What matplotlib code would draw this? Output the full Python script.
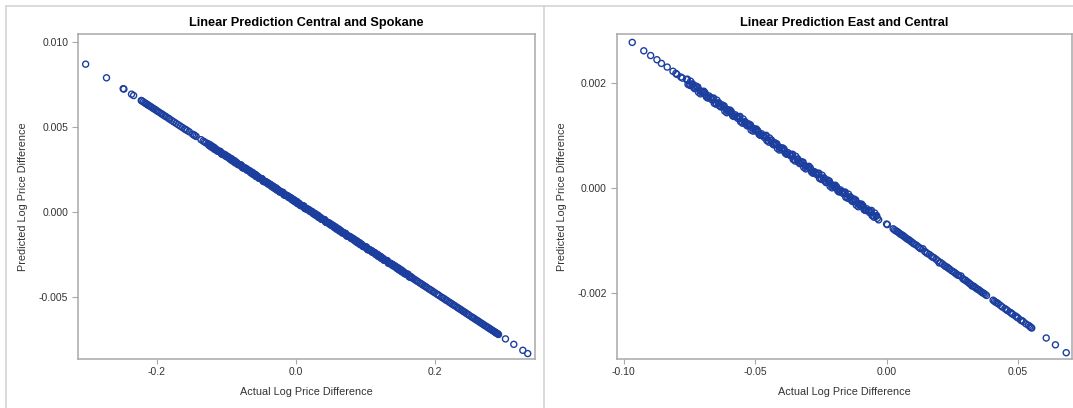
import numpy as np
import matplotlib
matplotlib.use('Agg')
import matplotlib.pyplot as plt
from matplotlib.lines import Line2D

plt.rcParams['font.family'] = ['Liberation Sans', 'DejaVu Sans']

# ---- Central and Spokane (left panel) ----
cs_actual = [
    -0.302, -0.272, -0.248, -0.247, -0.236, -0.233, -0.222, -0.221, -0.217, -0.214,
    -0.211, -0.209, -0.205, -0.199, -0.197, -0.192, -0.188, -0.186, -0.183, -0.178,
    -0.172, -0.169, -0.166, -0.163, -0.160, -0.156, -0.153, -0.146, -0.145, -0.136,
    -0.129,
    -0.126, -0.123, -0.120, -0.117, -0.114, -0.111, -0.108, -0.105, -0.102, -0.099,
    -0.096, -0.093, -0.090, -0.087, -0.084, -0.081, -0.078, -0.075, -0.072, -0.069,
    -0.066, -0.063, -0.060, -0.057, -0.054, -0.051, -0.048, -0.045, -0.042, -0.039,
    -0.036, -0.033, -0.030, -0.027, -0.024, -0.021, -0.018, -0.015, -0.012, -0.009,
    -0.006, -0.003, 0.000, 0.003, 0.006, 0.009, 0.012, 0.015, 0.018, 0.021,
    0.024, 0.027, 0.030, 0.033, 0.036, 0.039, 0.042, 0.045, 0.048, 0.051,
    0.054, 0.057, 0.060, 0.063, 0.066, 0.069, 0.072, 0.075, 0.078, 0.081,
    0.084, 0.087, 0.090, 0.093, 0.096, 0.099, 0.102, 0.105, 0.108, 0.111,
    0.114, 0.117, 0.120, 0.123, 0.126, 0.129, 0.132, 0.135, 0.138, 0.141,
    0.144, 0.147, 0.150, 0.153, 0.156, 0.159, 0.162, 0.165, 0.168,
    0.172, 0.176, 0.181, 0.185, 0.189, 0.194, 0.198, 0.203, 0.207, 0.212,
    0.216, 0.221, 0.225, 0.229, 0.234, 0.238, 0.242, 0.246, 0.250, 0.255,
    0.259, 0.263, 0.267, 0.271, 0.275, 0.278, 0.281, 0.284, 0.287, 0.289,
    0.291, 0.302, 0.314, 0.327, 0.334,
]
cs_predicted = [
    0.00868, 0.00788, 0.00724, 0.00722, 0.00692, 0.00684, 0.00655, 0.00652, 0.00641, 0.00633,
    0.00625, 0.00620, 0.00609, 0.00593, 0.00588, 0.00575, 0.00564, 0.00559, 0.00551, 0.00537,
    0.00521, 0.00513, 0.00505, 0.00497, 0.00489, 0.00479, 0.00471, 0.00452, 0.00449, 0.00425,
    0.00406,
    0.00402, 0.00387, 0.00383, 0.00369, 0.00368, 0.00357, 0.00355, 0.00338, 0.00334, 0.00329,
    0.00322, 0.00307, 0.00303, 0.00289, 0.00288, 0.00277, 0.00275, 0.00258, 0.00254, 0.00249,
    0.00242, 0.00227, 0.00223, 0.00209, 0.00208, 0.00197, 0.00195, 0.00178, 0.00174, 0.00169,
    0.00162, 0.00147, 0.00143, 0.00129, 0.00128, 0.00117, 0.00115, 0.00098, 0.00094, 0.00089,
    0.00082, 0.00067, 0.00063, 0.00049, 0.00048, 0.00037, 0.00035, 0.00018, 0.00014, 0.00009,
    0.00002, -0.00013, -0.00017, -0.00031, -0.00032, -0.00043, -0.00045, -0.00062, -0.00066, -0.00071,
    -0.00078, -0.00093, -0.00097, -0.00111, -0.00112, -0.00123, -0.00125, -0.00142, -0.00146, -0.00151,
    -0.00158, -0.00173, -0.00177, -0.00191, -0.00192, -0.00203, -0.00205, -0.00222, -0.00226, -0.00231,
    -0.00238, -0.00253, -0.00257, -0.00271, -0.00272, -0.00283, -0.00285, -0.00302, -0.00306, -0.00311,
    -0.00318, -0.00333, -0.00337, -0.00351, -0.00352, -0.00363, -0.00365, -0.00382, -0.00387,
    -0.00397, -0.00408, -0.00421, -0.00432, -0.00443, -0.00456, -0.00467, -0.00480, -0.00491, -0.00504,
    -0.00515, -0.00528, -0.00539, -0.00549, -0.00563, -0.00573, -0.00584, -0.00595, -0.00606, -0.00619,
    -0.00630, -0.00640, -0.00651, -0.00662, -0.00672, -0.00680, -0.00688, -0.00696, -0.00704, -0.00710,
    -0.00715, -0.00744, -0.00776, -0.00811, -0.00830,
]
# more observations packed into the thick middle of the band
cs_actual_band = [
    -0.125, -0.122, -0.119, -0.116, -0.113, -0.110, -0.107, -0.104, -0.101, -0.098,
    -0.095, -0.092, -0.089, -0.086, -0.083, -0.080, -0.077, -0.074, -0.071, -0.068,
    -0.065, -0.062, -0.059, -0.056, -0.053, -0.050, -0.047, -0.044, -0.041, -0.038,
    -0.035, -0.032, -0.029, -0.026, -0.023, -0.020, -0.017, -0.014, -0.011, -0.008,
    -0.005, -0.002, 0.001, 0.004, 0.007, 0.010, 0.013, 0.016, 0.019, 0.022,
    0.025, 0.028, 0.031, 0.034, 0.037, 0.040, 0.043, 0.046, 0.049, 0.052,
    0.055, 0.058, 0.061, 0.064, 0.067, 0.070, 0.073, 0.076, 0.079, 0.082,
    0.085, 0.088, 0.091, 0.094, 0.097, 0.100, 0.103, 0.106, 0.109, 0.112,
    0.115, 0.118, 0.121, 0.124, 0.127, 0.130, 0.133, 0.136, 0.139, 0.142,
    0.145, 0.148, 0.151, 0.154, 0.157, 0.160, 0.163, 0.166,
    -0.124, -0.121, -0.118, -0.115, -0.112, -0.109, -0.106, -0.103, -0.100, -0.097,
    -0.094, -0.091, -0.088, -0.085, -0.082, -0.079, -0.076, -0.073, -0.070, -0.067,
    -0.064, -0.061, -0.058, -0.055, -0.052, -0.049, -0.046, -0.043, -0.040, -0.037,
    -0.034, -0.031, -0.028, -0.025, -0.022, -0.019, -0.016, -0.013, -0.010, -0.007,
    -0.004, -0.001, 0.002, 0.005, 0.008, 0.011, 0.014, 0.017, 0.020, 0.023,
    0.026, 0.029, 0.032, 0.035, 0.038, 0.041, 0.044, 0.047, 0.050, 0.053,
    0.056, 0.059, 0.062, 0.065, 0.068, 0.071, 0.074, 0.077, 0.080, 0.083,
    0.086, 0.089, 0.092, 0.095, 0.098, 0.101, 0.104, 0.107, 0.110, 0.113,
    0.116, 0.119, 0.122, 0.125, 0.128, 0.131, 0.134, 0.137, 0.140, 0.143,
    0.146, 0.149, 0.152, 0.155, 0.158, 0.161, 0.164, 0.167,
    -0.219, -0.215, -0.212, -0.207, -0.203, -0.201, -0.194, -0.190, -0.181, -0.175,
    -0.158, -0.148, -0.143, -0.133, -0.131,
    0.170, 0.174, 0.179, 0.183, 0.187, 0.192, 0.196, 0.200, 0.205, 0.210,
    0.214, 0.218, 0.223, 0.227, 0.232, 0.236, 0.240, 0.244, 0.248, 0.253,
    0.257, 0.261, 0.265, 0.269, 0.273, 0.277, 0.280, 0.283, 0.286, 0.288,
    0.290, 0.292,
]
cs_predicted_band = [
    0.00393, 0.00393, 0.00378, 0.00375, 0.00359, 0.00357, 0.00344, 0.00342, 0.00336, 0.00323,
    0.00313, 0.00313, 0.00298, 0.00295, 0.00279, 0.00277, 0.00264, 0.00262, 0.00256, 0.00243,
    0.00233, 0.00233, 0.00218, 0.00215, 0.00199, 0.00197, 0.00183, 0.00181, 0.00175, 0.00162,
    0.00152, 0.00152, 0.00137, 0.00134, 0.00118, 0.00116, 0.00103, 0.00101, 0.00095, 0.00082,
    0.00072, 0.00072, 0.00057, 0.00054, 0.00038, 0.00036, 0.00023, 0.00021, 0.00015, 0.00002,
    -0.00008, -0.00008, -0.00023, -0.00026, -0.00042, -0.00044, -0.00057, -0.00059, -0.00065, -0.00078,
    -0.00088, -0.00088, -0.00103, -0.00106, -0.00122, -0.00124, -0.00137, -0.00139, -0.00145, -0.00158,
    -0.00168, -0.00168, -0.00183, -0.00186, -0.00202, -0.00204, -0.00217, -0.00219, -0.00225, -0.00238,
    -0.00248, -0.00248, -0.00263, -0.00266, -0.00282, -0.00284, -0.00297, -0.00299, -0.00305, -0.00318,
    -0.00328, -0.00328, -0.00343, -0.00346, -0.00362, -0.00364, -0.00377, -0.00379,
    0.00395, 0.00381, 0.00382, 0.00369, 0.00359, 0.00357, 0.00340, 0.00338, 0.00326, 0.00324,
    0.00315, 0.00301, 0.00302, 0.00289, 0.00279, 0.00277, 0.00260, 0.00258, 0.00246, 0.00244,
    0.00235, 0.00221, 0.00222, 0.00209, 0.00199, 0.00197, 0.00180, 0.00178, 0.00166, 0.00164,
    0.00155, 0.00141, 0.00142, 0.00129, 0.00119, 0.00117, 0.00100, 0.00098, 0.00086, 0.00084,
    0.00075, 0.00061, 0.00062, 0.00049, 0.00039, 0.00037, 0.00020, 0.00018, 0.00006, 0.00004,
    -0.00005, -0.00019, -0.00018, -0.00031, -0.00041, -0.00043, -0.00060, -0.00062, -0.00075, -0.00077,
    -0.00086, -0.00100, -0.00099, -0.00112, -0.00122, -0.00124, -0.00141, -0.00143, -0.00155, -0.00157,
    -0.00166, -0.00180, -0.00179, -0.00192, -0.00202, -0.00204, -0.00221, -0.00223, -0.00235, -0.00237,
    -0.00246, -0.00260, -0.00259, -0.00272, -0.00282, -0.00284, -0.00301, -0.00303, -0.00315, -0.00317,
    -0.00326, -0.00340, -0.00339, -0.00352, -0.00362, -0.00364, -0.00381, -0.00383,
    0.00647, 0.00636, 0.00628, 0.00615, 0.00604, 0.00599, 0.00580, 0.00569, 0.00545, 0.00529,
    0.00484, 0.00457, 0.00444, 0.00417, 0.00412,
    -0.00392, -0.00403, -0.00416, -0.00427, -0.00437, -0.00451, -0.00461, -0.00472, -0.00485, -0.00499,
    -0.00509, -0.00520, -0.00533, -0.00544, -0.00557, -0.00568, -0.00579, -0.00589, -0.00600, -0.00614,
    -0.00624, -0.00635, -0.00646, -0.00656, -0.00667, -0.00678, -0.00686, -0.00694, -0.00702, -0.00707,
    -0.00712, -0.00718,
]

# ---- East and Central (right panel) ----
ec_actual = [
    -0.0967, -0.0923, -0.0897, -0.0873, -0.0856, -0.0834, -0.0812, -0.0801, -0.0797, -0.0782,
    -0.0776,
    -0.076, -0.075, -0.074, -0.073, -0.072, -0.071, -0.070, -0.069, -0.068, -0.067,
    -0.066, -0.065, -0.064, -0.063, -0.062, -0.061, -0.060, -0.059, -0.058, -0.057,
    -0.056, -0.055, -0.054, -0.053, -0.052, -0.051, -0.050, -0.049, -0.048, -0.047,
    -0.046, -0.045, -0.044, -0.043, -0.042, -0.041, -0.040, -0.039, -0.038, -0.037,
    -0.036, -0.035, -0.034, -0.033, -0.032, -0.031, -0.030, -0.029, -0.028, -0.027,
    -0.026, -0.025, -0.024, -0.023, -0.022, -0.021, -0.020, -0.019, -0.018, -0.017,
    -0.016, -0.015, -0.014, -0.013, -0.012, -0.011, -0.010, -0.009, -0.008, -0.007,
    -0.006, -0.005, -0.004, -0.003,
    0.0000, 0.0003,
    0.0025, 0.0035, 0.0045, 0.0055, 0.0065, 0.0075, 0.0085, 0.0095, 0.0105, 0.0120,
    0.0130, 0.0145, 0.0155, 0.0170, 0.0180, 0.0195, 0.0205, 0.0220, 0.0230, 0.0240,
    0.0255, 0.0265, 0.0275, 0.0290, 0.0300, 0.0310, 0.0320, 0.0330, 0.0340, 0.0350,
    0.0360, 0.0370, 0.0380, 0.0405, 0.0415, 0.0425, 0.0440, 0.0450, 0.0460, 0.0470,
    0.0480, 0.0490, 0.0500, 0.0510, 0.0515, 0.0530, 0.0540, 0.0545, 0.0552,
    0.0607, 0.0642, 0.0683,
]
ec_predicted = [
    0.00278, 0.00262, 0.00253, 0.00245, 0.00238, 0.00231, 0.00223, 0.00219, 0.00217, 0.00212,
    0.00210,
    0.00207, 0.00199, 0.00198, 0.00190, 0.00192, 0.00186, 0.00182, 0.00182, 0.00172, 0.00173,
    0.00171, 0.00163, 0.00162, 0.00155, 0.00156, 0.00150, 0.00146, 0.00146, 0.00137, 0.00137,
    0.00136, 0.00127, 0.00126, 0.00119, 0.00120, 0.00115, 0.00110, 0.00110, 0.00101, 0.00101,
    0.00100, 0.00091, 0.00091, 0.00083, 0.00084, 0.00079, 0.00074, 0.00075, 0.00065, 0.00065,
    0.00064, 0.00055, 0.00055, 0.00047, 0.00049, 0.00043, 0.00038, 0.00039, 0.00029, 0.00030,
    0.00028, 0.00020, 0.00019, 0.00011, 0.00013, 0.00007, 0.00003, 0.00003, -0.00007, -0.00006,
    -0.00008, -0.00016, -0.00017, -0.00025, -0.00023, -0.00029, -0.00033, -0.00033, -0.00042, -0.00042,
    -0.00044, -0.00052, -0.00053, -0.00060,
    -0.00068, -0.00069,
    -0.00077, -0.00081, -0.00084, -0.00088, -0.00091, -0.00095, -0.00098, -0.00102, -0.00106, -0.00111,
    -0.00115, -0.00120, -0.00124, -0.00129, -0.00132, -0.00138, -0.00141, -0.00147, -0.00150, -0.00154,
    -0.00159, -0.00163, -0.00166, -0.00172, -0.00175, -0.00179, -0.00183, -0.00186, -0.00190, -0.00193,
    -0.00197, -0.00200, -0.00204, -0.00213, -0.00217, -0.00220, -0.00226, -0.00229, -0.00233, -0.00236,
    -0.00240, -0.00243, -0.00247, -0.00251, -0.00252, -0.00258, -0.00261, -0.00263, -0.00266,
    -0.00285, -0.00298, -0.00313,
]
ec_actual_band = [
    -0.0755, -0.0745, -0.0735, -0.0725, -0.0715, -0.0705, -0.0695, -0.0685, -0.0675, -0.0665,
    -0.0655, -0.0645, -0.0635, -0.0625, -0.0615, -0.0605, -0.0595, -0.0585, -0.0575, -0.0565,
    -0.0555, -0.0545, -0.0535, -0.0525, -0.0515, -0.0505, -0.0495, -0.0485, -0.0475, -0.0465,
    -0.0455, -0.0445, -0.0435, -0.0425, -0.0415, -0.0405, -0.0395, -0.0385, -0.0375, -0.0365,
    -0.0355, -0.0345, -0.0335, -0.0325, -0.0315, -0.0305, -0.0295, -0.0285, -0.0275, -0.0265,
    -0.0255, -0.0245, -0.0235, -0.0225, -0.0215, -0.0205, -0.0195, -0.0185, -0.0175, -0.0165,
    -0.0155, -0.0145, -0.0135, -0.0125, -0.0115, -0.0105, -0.0095, -0.0085, -0.0075, -0.0065,
    -0.0055, -0.0045, -0.0035,
    -0.07575, -0.07475, -0.07375, -0.07275, -0.07175, -0.07075, -0.06975, -0.06875, -0.06775, -0.06675,
    -0.06575, -0.06475, -0.06375, -0.06275, -0.06175, -0.06075, -0.05975, -0.05875, -0.05775, -0.05675,
    -0.05575, -0.05475, -0.05375, -0.05275, -0.05175, -0.05075, -0.04975, -0.04875, -0.04775, -0.04675,
    -0.04575, -0.04475, -0.04375, -0.04275, -0.04175, -0.04075, -0.03975, -0.03875, -0.03775, -0.03675,
    -0.03575, -0.03475, -0.03375, -0.03275, -0.03175, -0.03075, -0.02975, -0.02875, -0.02775, -0.02675,
    -0.02575, -0.02475, -0.02375, -0.02275, -0.02175, -0.02075, -0.01975, -0.01875, -0.01775, -0.01675,
    -0.01575, -0.01475, -0.01375, -0.01275, -0.01175, -0.01075, -0.00975, -0.00875, -0.00775, -0.00675,
    -0.00575, -0.00475, -0.00375,
    0.0030, 0.0040, 0.0050, 0.0060, 0.0070, 0.0080, 0.0090, 0.0100, 0.0113, 0.0125,
    0.0138, 0.0150, 0.0163, 0.0175, 0.0188, 0.0200, 0.0213, 0.0225, 0.0235, 0.0248,
    0.0260, 0.0270, 0.0283, 0.0295, 0.0305, 0.0315, 0.0325, 0.0335, 0.0345, 0.0355,
    0.0365, 0.0375, 0.0410, 0.0420, 0.0433, 0.0455, 0.0475, 0.0495, 0.0520, 0.0549,
]
ec_predicted_band = [
    0.00198, 0.00204, 0.00193, 0.00195, 0.00183, 0.00185, 0.00185, 0.00174, 0.00176, 0.00169,
    0.00162, 0.00168, 0.00157, 0.00159, 0.00147, 0.00150, 0.00149, 0.00138, 0.00140, 0.00133,
    0.00127, 0.00132, 0.00122, 0.00123, 0.00111, 0.00114, 0.00113, 0.00103, 0.00104, 0.00097,
    0.00091, 0.00096, 0.00086, 0.00087, 0.00076, 0.00078, 0.00077, 0.00067, 0.00068, 0.00062,
    0.00055, 0.00061, 0.00050, 0.00051, 0.00040, 0.00042, 0.00042, 0.00031, 0.00032, 0.00026,
    0.00019, 0.00025, 0.00014, 0.00016, 0.00004, 0.00006, 0.00006, -0.00005, -0.00003, -0.00010,
    -0.00017, -0.00011, -0.00022, -0.00020, -0.00032, -0.00029, -0.00030, -0.00041, -0.00039, -0.00046,
    -0.00052, -0.00047, -0.00057,
    0.00208, 0.00196, 0.00199, 0.00191, 0.00193, 0.00180, 0.00184, 0.00178, 0.00173, 0.00172,
    0.00172, 0.00160, 0.00163, 0.00156, 0.00157, 0.00144, 0.00148, 0.00142, 0.00137, 0.00136,
    0.00137, 0.00124, 0.00127, 0.00120, 0.00121, 0.00109, 0.00112, 0.00107, 0.00101, 0.00100,
    0.00101, 0.00088, 0.00092, 0.00084, 0.00085, 0.00073, 0.00076, 0.00071, 0.00065, 0.00065,
    0.00065, 0.00052, 0.00056, 0.00048, 0.00050, 0.00037, 0.00041, 0.00035, 0.00029, 0.00029,
    0.00029, 0.00017, 0.00020, 0.00012, 0.00014, 0.00001, 0.00005, -0.00001, -0.00006, -0.00007,
    -0.00007, -0.00019, -0.00016, -0.00023, -0.00022, -0.00035, -0.00031, -0.00037, -0.00042, -0.00043,
    -0.00042, -0.00055, -0.00052,
    -0.00079, -0.00082, -0.00086, -0.00089, -0.00093, -0.00097, -0.00100, -0.00104, -0.00108, -0.00113,
    -0.00115, -0.00122, -0.00126, -0.00131, -0.00135, -0.00142, -0.00144, -0.00149, -0.00152, -0.00157,
    -0.00161, -0.00165, -0.00167, -0.00174, -0.00177, -0.00181, -0.00186, -0.00188, -0.00192, -0.00195,
    -0.00199, -0.00202, -0.00215, -0.00218, -0.00223, -0.00231, -0.00238, -0.00245, -0.00254, -0.00265,
]

panels = [
    ('Linear Prediction Central and Spokane',
     cs_actual + cs_actual_band, cs_predicted + cs_predicted_band,
     (-0.313, 0.3445), (-0.00862, 0.01045), [-0.2, 0.0, 0.2], '%.1f',
     [-0.005, 0.0, 0.005, 0.010], [78, 535]),
    ('Linear Prediction East and Central',
     ec_actual + ec_actual_band, ec_predicted + ec_predicted_band,
     (-0.1026, 0.0705), (-0.00325, 0.00294), [-0.10, -0.05, 0.0, 0.05], '%.2f',
     [-0.002, 0.0, 0.002], [616.7, 1072]),
]

W, H = 1073, 408
fig = plt.figure(figsize=(W / 100, H / 100), dpi=100)

marker_col = '#1c3f9f'
frame_col = '#a8a8a8'

for title, xs, ys, xlim, ylim, xt, xfmt, yt, xpix in panels:
    left = xpix[0] / W
    width = (xpix[1] - xpix[0]) / W
    ax = fig.add_axes([left, (H - 359) / H, width, (359 - 34) / H])
    ax.scatter(xs, ys, s=19, facecolors='none', edgecolors=marker_col, linewidths=1.0)
    ax.set_xlim(*xlim)
    ax.set_ylim(*ylim)
    ax.set_xticks(xt)
    ax.set_yticks(yt)
    ax.xaxis.set_major_formatter(matplotlib.ticker.FormatStrFormatter(xfmt))
    ax.yaxis.set_major_formatter(matplotlib.ticker.FormatStrFormatter('%.3f'))
    for sp in ax.spines.values():
        sp.set_color(frame_col)
        sp.set_linewidth(1.1)
    ax.tick_params(axis='both', colors='#333333', labelsize=7.5, width=0.8)
    ax.tick_params(axis='x', length=3.5, pad=2, color=frame_col)
    ax.tick_params(axis='y', length=4.5, pad=2.5, color=frame_col)
    ax.set_title(title, fontsize=9.2, fontweight='bold', pad=6)
    ax.set_xlabel('Actual Log Price Difference', fontsize=7.8, color='#333333')
    ax.set_ylabel('Predicted Log Price Difference', fontsize=7.8, color='#333333')
    ax.xaxis.set_label_coords(0.5, -0.085)
    ax.yaxis.set_label_coords(-0.11, 0.5)

# page separators
line_col = '#d4d4d4'
fig.add_artist(Line2D([6 / W, 1], [1 - 6 / H, 1 - 6 / H], color=line_col, lw=1.2))
fig.add_artist(Line2D([6 / W, 6 / W], [0, 1 - 6 / H], color=line_col, lw=1.2))
fig.add_artist(Line2D([544 / W, 544 / W], [0, 1 - 6 / H], color=line_col, lw=1.2))

fig.savefig('out.png', dpi=100)
